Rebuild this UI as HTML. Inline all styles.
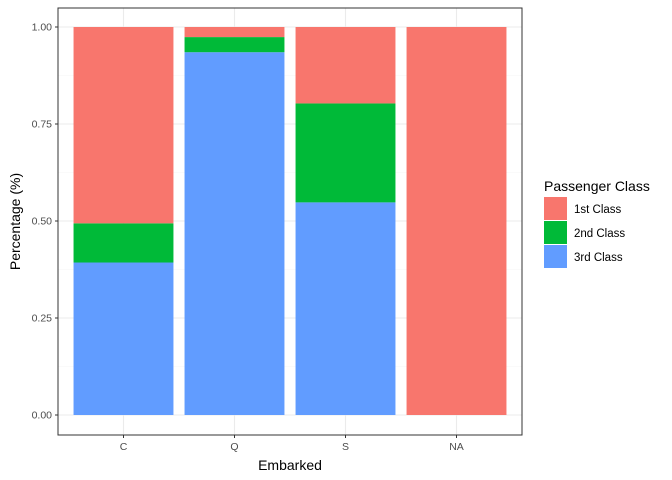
<!DOCTYPE html>
<html><head><meta charset="utf-8"><style>body{margin:0;background:#fff}svg{display:block;font-family:"Liberation Sans",Arial,sans-serif}</style></head>
<body>
<svg id="chart" width="672" height="480"></svg>
<script>
const categories=["C","Q","S","NA"];
const first=[0.506,0.026,0.197,1.0];
const second=[0.101,0.039,0.255,0];
const third=[0.393,0.935,0.548,0];
const yTicks=[0,0.25,0.5,0.75,1];
const yTickLabels=["0.00","0.25","0.50","0.75","1.00"];
const seriesNames=["1st Class","2nd Class","3rd Class"];
const colors=["#F8766D","#00BA38","#619CFF"];

const NS="http://www.w3.org/2000/svg";
const svg=document.getElementById("chart");
function mk(t,a,p){const e=document.createElementNS(NS,t);for(const k in a)e.setAttribute(k,a[k]);(p||svg).appendChild(e);return e;}
const pL=58,pR=522,pT=8,pB=435;
const y0=415,y1=27;
const y=v=>y0-(y0-y1)*v;
const ex=0.59;
const step=(pR-pL)/(categories.length-1+2*ex);
const x=i=>pL+step*(ex+i);
const bw=step*0.9;

for(let i=0;i<yTicks.length-1;i++){const v=(yTicks[i]+yTicks[i+1])/2;const g=mk("line",{x1:pL,x2:pR,y1:y(v),y2:y(v),stroke:"#F5F5F5","stroke-width":0.6});

}
yTicks.forEach(v=>{const g=mk("line",{x1:pL,x2:pR,y1:y(v),y2:y(v),stroke:"#EBEBEB","stroke-width":1.1});

});
categories.forEach((c,i)=>{const g=mk("line",{x1:x(i),x2:x(i),y1:pT,y2:pB,stroke:"#EBEBEB","stroke-width":1.1});

});

categories.forEach((c,i)=>{
  const segs=[[third[i],2,'3rd'],[second[i],1,'2nd'],[first[i],0,'1st']];
  let base=0;
  segs.forEach(([v,ci,n])=>{
    if(v>0){const r=mk("rect",{x:x(i)-bw/2,y:y(base+v),width:bw,height:y(base)-y(base+v),fill:colors[ci]});
    
    }
    base+=v;
  });
});

const b=mk("rect",{x:pL,y:pT,width:pR-pL,height:pB-pT,fill:"none",stroke:"#333333","stroke-width":1});



yTicks.forEach((v,i)=>{
  mk("line",{x1:pL-3,x2:pL,y1:y(v),y2:y(v),stroke:"#333","stroke-width":1});
  const t=mk("text",{x:pL-6,y:y(v)+3.5,"text-anchor":"end","font-size":"10.5",fill:"#4D4D4D"});t.textContent=yTickLabels[i];
  
  
});
categories.forEach((c,i)=>{
  mk("line",{x1:x(i),x2:x(i),y1:pB,y2:pB+3,stroke:"#333","stroke-width":1});
  const t=mk("text",{x:x(i),y:pB+15,"text-anchor":"middle","font-size":"10.5",fill:"#4D4D4D"});t.textContent=c;
  
  
});
let t=mk("text",{x:(pL+pR)/2,y:470,"text-anchor":"middle","font-size":"14",fill:"#000"});t.textContent="Embarked";


t=mk("text",{x:20,y:(pT+pB)/2,"text-anchor":"middle","font-size":"14",fill:"#000",transform:`rotate(-90 20 ${(pT+pB)/2})`});t.textContent="Percentage (%)";



t=mk("text",{x:544,y:191,"font-size":"14",fill:"#000"});t.textContent="Passenger Class";


seriesNames.forEach((n,i)=>{
  const ky=197+i*24;
  const r=mk("rect",{x:544,y:ky,width:23,height:23,fill:colors[i]});
  
  
  const l=mk("text",{x:574,y:ky+16,"font-size":"11.5",fill:"#000"});l.textContent=n;
  
  
});
</script>
</body></html>
